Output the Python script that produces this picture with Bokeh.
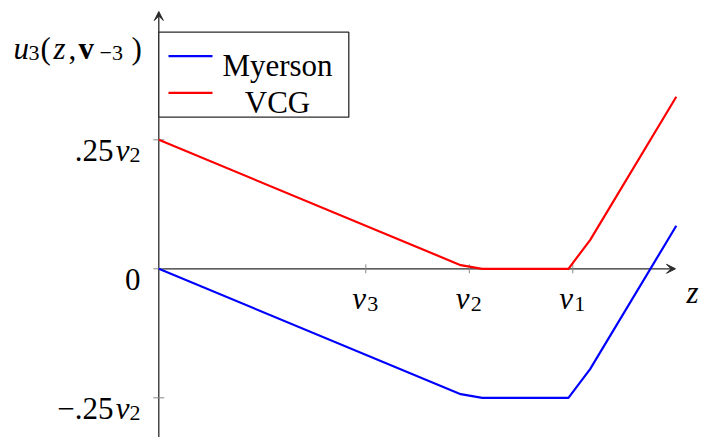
from bokeh.plotting import figure
from bokeh.models import Range1d, Arrow, VeeHead
from bokeh.embed import file_html
from bokeh.resources import INLINE
from bokeh.core.properties import value

# --- data (z in units where v3=2, v2=3, v1=4; utility in the same units) ---
z = [0.0, 2.917, 3.125, 3.958, 4.167, 5.0]
myerson = [0.0, -0.729, -0.75, -0.75, -0.583, 0.25]
vcg = [0.75, 0.021, 0.0, 0.0, 0.167, 1.0]
series_names = ["Myerson", "VCG"]
series_colors = ["#0000ff", "#ff0000"]

x_ticks = [2.0, 3.0, 4.0]
x_tick_subs = ["3", "2", "1"]
y_ticks = [0.75, 0.0, -0.75]
y_tick_main = [".25", "0", "\u2212.25"]
y_tick_subs = ["2", "", "2"]

# --- canvas geometry: pixel scale of each axis and pixel position of the origin ---
W, H = 701, 437
SX, SY = 103.5, 172.0
OX, OY = 158.3, 268.3
X0 = -OX / SX
X1 = X0 + W / SX
Y1 = OY / SY
Y0 = Y1 - H / SY


def px(xp):
    return X0 + xp / SX


def py(yp):
    return Y1 - yp / SY


def to_px(x):
    return (x - X0) * SX


def to_py(y):
    return (Y1 - y) * SY


FONT = value("Liberation Serif")
MAIN = "31px"
SUB = "22px"
AXIS_COLOR = "#2a2a2a"
TICK_COLOR = "#888888"

p = figure(width=W, height=H, x_range=Range1d(X0, X1), y_range=Range1d(Y0, Y1),
           output_backend="svg", toolbar_location=None,
           x_axis_location=None, y_axis_location=None, min_border=0)
p.grid.visible = False
p.outline_line_color = None
p.background_fill_color = "white"
p.border_fill_color = "white"


def put(xp, yp, txt, size=MAIN, style="normal", align="left"):
    p.text(x=[px(xp)], y=[py(yp)], text=[txt], text_font=FONT,
           text_font_size=size, text_font_style=style, text_align=align,
           text_baseline="alphabetic", text_color="black")


# axes with arrow heads
p.add_layout(Arrow(end=VeeHead(size=9, fill_color=AXIS_COLOR, line_color=AXIS_COLOR),
                   x_start=0.0, y_start=0.0, x_end=px(675), y_end=0.0,
                   line_color=AXIS_COLOR, line_width=1.3, level="underlay"))
p.add_layout(Arrow(end=VeeHead(size=9, fill_color=AXIS_COLOR, line_color=AXIS_COLOR),
                   x_start=0.0, y_start=py(H + 2), x_end=0.0, y_end=py(11),
                   line_color=AXIS_COLOR, line_width=1.3, level="underlay"))

# tick marks
p.segment(x0=x_ticks, x1=x_ticks,
          y0=[py(OY - 4.5)] * len(x_ticks), y1=[py(OY + 4.5)] * len(x_ticks),
          line_color=TICK_COLOR, line_width=1)
p.segment(x0=[px(OX - 5.5)] * len(y_ticks), x1=[px(OX + 5.5)] * len(y_ticks),
          y0=y_ticks, y1=y_ticks, line_color=TICK_COLOR, line_width=1)

# x tick labels v_i
for xt, sub in zip(x_ticks, x_tick_subs):
    cx = to_px(xt)
    put(cx - 13.5, 298, "v", style="italic")
    put(cx + 1.5, 303.5, sub, size=SUB)

# y tick labels
for yt, main, sub in zip(y_ticks, y_tick_main, y_tick_subs):
    cy = to_py(yt)
    if sub:
        put(140, cy + 15, sub, size=SUB, align="right")
        put(129, cy + 10.5, "v", style="italic", align="right")
        put(113, cy + 10.5, main, align="right")
    else:
        put(140, cy + 10.5, main, align="right")

# axis labels
put(686, 291.5, "z", style="italic")
put(13, 47.5, "u", style="italic")
put(28, 52.5, "3", size=SUB)
put(40, 47.5, "(")
put(53, 47.5, "z", style="italic")
put(68, 47.5, ",")
put(78, 47.5, "v", style="bold")
put(99, 52.5, "\u22123", size=SUB)
put(131, 47.5, ")")

# curves
p.line(z, myerson, line_color=series_colors[0], line_width=2.2)
p.line(z, vcg, line_color=series_colors[1], line_width=2.2)

# legend
p.quad(left=[px(158.3)], right=[px(348.3)], top=[py(31.7)], bottom=[py(116.7)],
       fill_color="white", line_color=AXIS_COLOR, line_width=1.3)
for name, color, ly in zip(series_names, series_colors, [55.7, 92.3]):
    p.line([px(168), px(212)], [py(ly), py(ly)], line_color=color, line_width=2.2)
    put(277, ly + 9.5, name, align="center")

open("out.html", "w").write(file_html(p, INLINE))
